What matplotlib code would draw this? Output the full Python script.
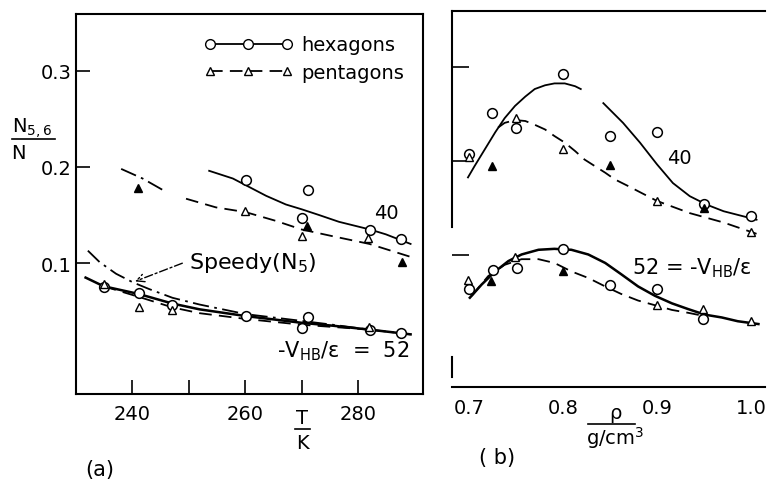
import matplotlib.pyplot as plt
from matplotlib.lines import Line2D

# ---------------- panel (a): N5,6/N vs T ----------------
# puntos medidos, -V_HB/eps = 40
T_hex40 = [260.2, 271.2, 270.1, 282.1, 287.6]
v_hex40 = [0.186, 0.176, 0.147, 0.134, 0.125]
T_pen40 = [240.9, 260.0, 270.1, 271.0, 281.8, 287.8]
v_pen40 = [0.178, 0.154, 0.128, 0.139, 0.126, 0.101]
pen40_filled = [True, False, False, True, False, True]

# puntos medidos, -V_HB/eps = 52
T_hex52 = [234.9, 241.1, 247.1, 260.2, 270.1, 271.2, 282.1, 287.6]
v_hex52 = [0.075, 0.069, 0.057, 0.045, 0.033, 0.044, 0.031, 0.027]
T_pen52 = [234.9, 241.1, 247.1, 282.0]
v_pen52 = [0.078, 0.054, 0.051, 0.034]

# curvas
Tc_hex40 = [253.6, 257.8, 260.1, 263.7, 267.2, 270.0, 273.1, 276.6, 282.1, 284.9, 289.3]
vc_hex40 = [0.196, 0.188, 0.181, 0.170, 0.161, 0.156, 0.150, 0.143, 0.135, 0.130, 0.120]
Tc_pen40a = [238.0, 241.8, 245.7]
vc_pen40a = [0.198, 0.188, 0.175]
Tc_pen40b = [249.5, 254.8, 260.1, 265.4, 270.0, 275.5, 282.0, 289.6]
vc_pen40b = [0.167, 0.158, 0.153, 0.144, 0.135, 0.128, 0.120, 0.106]
Tc_speedy = [232.1, 234.2, 237.1, 240.1, 243.0, 247.1, 251.9, 260.1, 270.0, 275.5, 281.9, 289.3]
vc_speedy = [0.113, 0.101, 0.089, 0.080, 0.073, 0.064, 0.057, 0.047, 0.040, 0.036, 0.031, 0.026]
Tc_hex52 = [231.7, 234.9, 241.1, 247.1, 251.9, 260.1, 270.0, 275.5, 281.9, 289.3]
vc_hex52 = [0.085, 0.076, 0.068, 0.058, 0.052, 0.045, 0.038, 0.035, 0.031, 0.026]
Tc_pen52 = [234.9, 241.1, 247.1, 251.9, 260.1, 270.0, 281.9]
vc_pen52 = [0.076, 0.065, 0.054, 0.048, 0.042, 0.036, 0.031]

# ---------------- panel (b): N5,6/N vs densidad ----------------
rho_hex40 = [0.70, 0.725, 0.75, 0.80, 0.85, 0.90, 0.95, 1.0]
vb_hex40 = [0.208, 0.251, 0.236, 0.293, 0.227, 0.231, 0.155, 0.142]
rho_pen40 = [0.70, 0.725, 0.75, 0.80, 0.85, 0.90, 0.95, 1.0]
vb_pen40 = [0.205, 0.195, 0.246, 0.213, 0.196, 0.158, 0.150, 0.125]
pen40b_filled = [False, True, False, False, True, False, True, False]

rho_hex52 = [0.70, 0.726, 0.751, 0.80, 0.85, 0.90, 0.949]
vb_hex52 = [0.064, 0.085, 0.087, 0.107, 0.069, 0.064, 0.032]
rho_pen52 = [0.699, 0.724, 0.749, 0.80, 0.90, 0.949, 1.0]
vb_pen52 = [0.074, 0.073, 0.098, 0.083, 0.047, 0.043, 0.030]
pen52b_filled = [False, True, False, True, False, False, False]

rc_hex40a = [0.699, 0.706, 0.717, 0.728, 0.738, 0.749, 0.760, 0.770, 0.781, 0.791,
             0.802, 0.813, 0.819]
vbc_hex40a = [0.183, 0.195, 0.213, 0.231, 0.246, 0.259, 0.269, 0.277, 0.281, 0.283,
              0.283, 0.280, 0.277]
rc_hex40b = [0.843, 0.864, 0.882, 0.900, 0.917, 0.935, 0.953, 0.971, 1.006]
vbc_hex40b = [0.262, 0.241, 0.220, 0.197, 0.177, 0.163, 0.154, 0.147, 0.138]
rc_pen40 = [0.731, 0.738, 0.749, 0.760, 0.770, 0.781, 0.791, 0.802, 0.813, 0.823,
            0.834, 0.845, 0.855, 0.869, 0.900, 0.935, 0.971, 1.006]
vbc_pen40 = [0.236, 0.241, 0.244, 0.243, 0.239, 0.234, 0.227, 0.220, 0.211, 0.202,
             0.195, 0.188, 0.181, 0.174, 0.158, 0.145, 0.135, 0.123]
rc_hex52 = [0.701, 0.7135, 0.728, 0.742, 0.756, 0.774, 0.791, 0.809, 0.827, 0.845,
            0.862, 0.880, 0.898, 0.916, 0.933, 0.951, 0.969, 0.986, 1.008]
vbc_hex52 = [0.055, 0.069, 0.083, 0.094, 0.101, 0.106, 0.107, 0.106, 0.101, 0.092,
             0.080, 0.067, 0.057, 0.049, 0.043, 0.037, 0.034, 0.030, 0.027]
rc_pen52 = [0.703, 0.7205, 0.738, 0.756, 0.774, 0.791, 0.809, 0.827, 0.845, 0.862,
            0.880, 0.898, 0.916, 0.933, 0.948]
vbc_pen52 = [0.057, 0.078, 0.090, 0.096, 0.096, 0.092, 0.083, 0.076, 0.067, 0.059,
             0.052, 0.047, 0.042, 0.039, 0.036]

FS = 14
plt.rcParams['font.family'] = ['DejaVu Sans']
plt.rcParams['font.size'] = FS

fig = plt.figure(figsize=(7.67, 4.81), dpi=100)
ax1 = fig.add_axes([0.0991, 0.1788, 0.4524, 0.79])
ax2 = fig.add_axes([0.5893, 0.1933, 0.4081, 0.7817])

lw = 1.3
DASH = (0, (7, 4))
DASHDOT = (0, (9, 3, 1.5, 3))


def tri(ax, x, y, filled):
    for xi, yi, f in zip(x, y, filled):
        ax.plot(xi, yi, marker='^', ms=6, mec='k', mew=1.0,
                mfc='k' if f else 'white', ls='none', zorder=4)


# panel (a)
ax1.plot(Tc_hex40, vc_hex40, 'k-', lw=lw)
ax1.plot(Tc_pen40a, vc_pen40a, color='k', ls=DASHDOT, lw=lw)
ax1.plot(Tc_pen40b, vc_pen40b, color='k', ls=DASH, lw=lw)
ax1.plot(Tc_speedy, vc_speedy, color='k', ls=DASHDOT, lw=lw)
ax1.plot(Tc_hex52, vc_hex52, 'k-', lw=lw * 1.4)
ax1.plot(Tc_pen52, vc_pen52, color='k', ls=DASH, lw=lw)
ax1.plot(T_hex40, v_hex40, 'o', ms=7, mfc='white', mec='k', mew=1.1, zorder=4)
ax1.plot(T_hex52, v_hex52, 'o', ms=7, mfc='white', mec='k', mew=1.1, zorder=4)
tri(ax1, T_pen40, v_pen40, pen40_filled)
tri(ax1, T_pen52, v_pen52, [False] * len(T_pen52))

ax1.set_xlim(230, 291.5)
ax1.set_ylim(-0.036, 0.359)
ax1.set_xticks([240, 250, 260, 270, 280], labels=['240', '', '260', '', '280'])
ax1.set_yticks([0.1, 0.2, 0.3], labels=['0.1', '0.2', '0.3'])
ax1.tick_params(axis='x', direction='in', length=10, width=1.2, pad=7)
ax1.tick_params(axis='y', direction='in', length=10, width=1.2, pad=3)

ax1.text(285.0, 0.153, '40', ha='center', va='center', fontsize=FS)
ax1.text(250.1, 0.101, 'Speedy(N$_5$)', ha='left', va='center', fontsize=FS + 2)
ax1.annotate('', xy=(240, 0.080), xytext=(249.3, 0.101),
             arrowprops=dict(arrowstyle='->', color='k', lw=1.0, ls=(0, (6, 2, 1.5, 2))))
ax1.text(265.7, 0.010, r'-V$_{\rm HB}$/ε  =  52', ha='left', va='center', fontsize=FS + 1)

h_hex = Line2D([], [], color='k', lw=lw, marker='o', ms=7, mfc='white', mec='k')
h_pen = Line2D([], [], color='k', lw=lw, ls=DASH, marker='^', ms=6, mfc='white', mec='k')
ax1.legend([h_hex, h_pen], ['hexagons', 'pentagons'], loc='upper right',
           bbox_to_anchor=(0.995, 0.99), numpoints=3, handlelength=4.6,
           handletextpad=0.4, labelspacing=0.45, frameon=False, fontsize=FS)

for s in ax1.spines.values():
    s.set_linewidth(1.5)

# panel (b)
ax2.plot(rc_hex40a, vbc_hex40a, 'k-', lw=lw)
ax2.plot(rc_hex40b, vbc_hex40b, 'k-', lw=lw)
ax2.plot(rc_pen40, vbc_pen40, color='k', ls=DASH, lw=lw)
ax2.plot(rc_hex52, vbc_hex52, 'k-', lw=lw * 1.4)
ax2.plot(rc_pen52, vbc_pen52, color='k', ls=DASH, lw=lw)
ax2.plot(rho_hex40, vb_hex40, 'o', ms=7, mfc='white', mec='k', mew=1.1, zorder=4)
ax2.plot(rho_hex52, vb_hex52, 'o', ms=7, mfc='white', mec='k', mew=1.1, zorder=4)
tri(ax2, rho_pen40, vb_pen40, pen40b_filled)
tri(ax2, rho_pen52, vb_pen52, pen52b_filled)

ax2.set_xlim(0.682, 1.015)
ax2.set_ylim(-0.04, 0.36)
ax2.set_xticks([0.7, 0.8, 0.9, 1.0], labels=['0.7', '0.8', '0.9', '1.0'])
ax2.set_yticks([0.1, 0.2, 0.3], labels=['', '', ''])
ax2.tick_params(axis='x', length=0, pad=8)
ax2.tick_params(axis='y', direction='in', length=12, width=1.2)
ax2.spines['right'].set_visible(False)
ax2.spines['left'].set_bounds(0.13, 0.36)
ax2.axvline(0.682, 0.027, 0.08, color='k', lw=1.5, clip_on=False)
for s in ax2.spines.values():
    s.set_linewidth(1.5)

ax2.text(0.924, 0.204, '40', ha='center', va='center', fontsize=FS)
ax2.text(0.874, 0.087, r'52 = -V$_{\rm HB}$/ε', ha='left', va='center', fontsize=FS + 1)

# etiquetas de ejes en forma de fraccion
fig.text(0.015, 0.733, 'N$_{5,6}$', ha='left', va='center', fontsize=FS)
fig.text(0.015, 0.680, 'N', ha='left', va='center', fontsize=FS)
fig.add_artist(Line2D([0.016, 0.072], [0.708, 0.708], color='k', lw=1.2))

fig.text(0.394, 0.130, 'T', ha='center', va='center', fontsize=FS)
fig.text(0.394, 0.079, 'K', ha='center', va='center', fontsize=FS)
fig.add_artist(Line2D([0.384, 0.404], [0.106, 0.106], color='k', lw=1.2))

fig.text(0.802, 0.140, 'ρ', ha='center', va='center', fontsize=FS)
fig.text(0.802, 0.090, 'g/cm$^3$', ha='center', va='center', fontsize=FS)
fig.add_artist(Line2D([0.767, 0.828], [0.116, 0.116], color='k', lw=1.2))

fig.text(0.13, 0.023, '(a)', ha='center', va='center', fontsize=FS + 1)
fig.text(0.648, 0.048, '( b)', ha='center', va='center', fontsize=FS + 1)

fig.savefig('out.png', dpi=100)
